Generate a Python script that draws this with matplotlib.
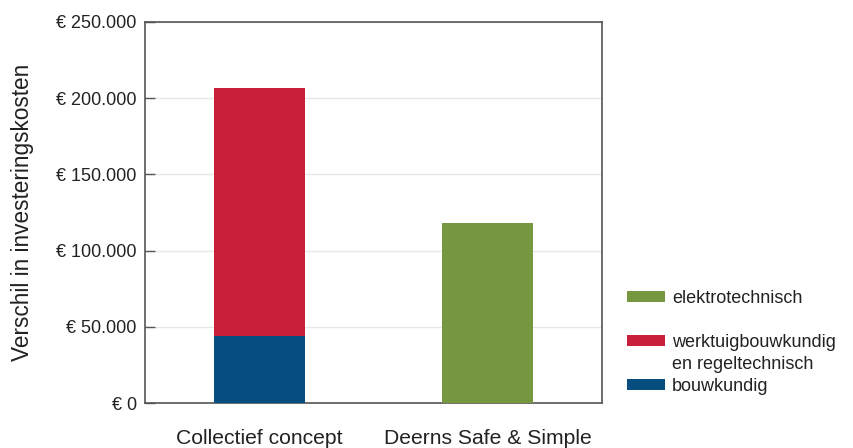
import matplotlib
matplotlib.use("Agg")
import matplotlib.pyplot as plt
from matplotlib.ticker import FuncFormatter
from matplotlib.patches import Patch

categories = ["Collectief concept", "Deerns Safe & Simple"]
bouwkundig = [44000, 0]
werktuig = [163000, 0]
elektro = [0, 118000]
yticks = [0, 50000, 100000, 150000, 200000, 250000]

plt.rcParams['font.family'] = ['Liberation Sans', 'DejaVu Sans']

fig = plt.figure(figsize=(8.54, 4.48), dpi=100)
ax = fig.add_axes([145/854, 1-403/448, 457/854, 381/448])

x = [0, 1]
c_blue = "#064d80"
c_red = "#c8203a"
c_green = "#76973f"
b1 = ax.bar(x, bouwkundig, width=0.4, color=c_blue, label="bouwkundig", zorder=3)
b2 = ax.bar(x, werktuig, width=0.4, bottom=bouwkundig, color=c_red,
            label="werktuigbouwkundig", zorder=3)
b3 = ax.bar(x, elektro, width=0.4, color=c_green, label="elektrotechnisch", zorder=3)

ax.set_xlim(-0.5, 1.5)
ax.set_ylim(0, 250000)
ax.set_yticks(yticks)
ax.yaxis.set_major_formatter(FuncFormatter(lambda v, p: "€ " + f"{int(v):,}".replace(",", ".")))
ax.set_xticks(x)
ax.set_xticklabels(categories, fontsize=15.2, color="#222222")
ax.tick_params(axis='x', length=0, pad=19)
ax.tick_params(axis='y', direction='in', length=7, width=1, color="#555555",
               labelsize=13, labelcolor="#222222", pad=6)
ax.grid(axis='y', color="#e8e8e8", linewidth=1, zorder=0)
for s in ax.spines.values():
    s.set_color("#555555")
    s.set_linewidth(1.2)
ax.set_ylabel("Verschil in investeringskosten", fontsize=16.3, color="#222222")
ax.yaxis.set_label_coords(-0.243, 0.5)

blank = Patch(alpha=0)
handles = [b3, blank, b2, blank, b1]
labels = ["elektrotechnisch", "", "werktuigbouwkundig", "en regeltechnisch", "bouwkundig"]
leg = fig.legend(handles=handles, labels=labels,
                 loc='lower left', bbox_to_anchor=(627/854, 1-395/448),
                 frameon=False, fontsize=13, handlelength=2.1, handleheight=0.6,
                 handletextpad=0.4, labelspacing=0.28, borderpad=0, borderaxespad=0,
                 labelcolor="#222222")

fig.savefig("out.png", dpi=100)
